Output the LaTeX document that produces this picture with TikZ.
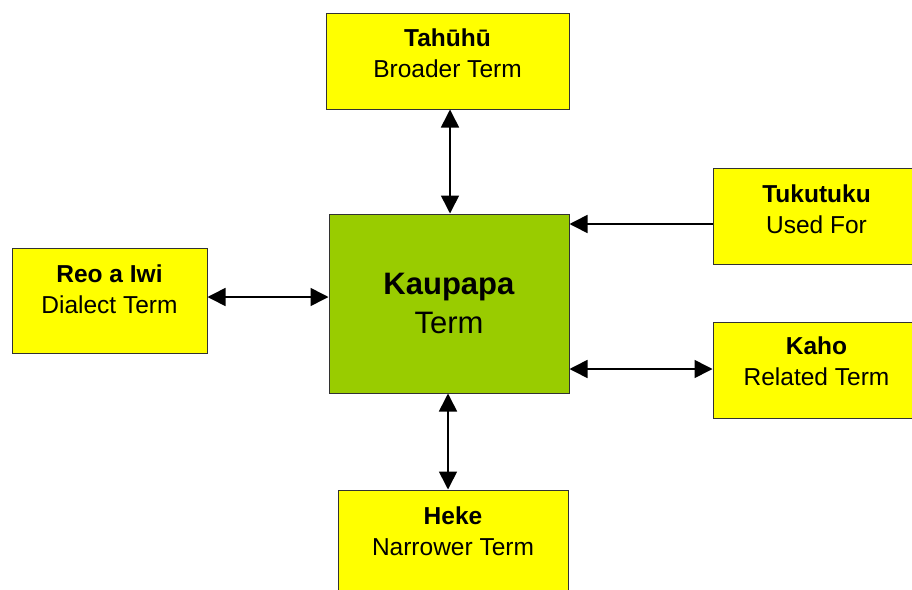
\documentclass[tikz,border=0pt]{standalone}
\usepackage{fontspec}
\setmainfont{Liberation Sans}
\usetikzlibrary{arrows.meta}

\definecolor{termyellow}{RGB}{255,255,0}
\definecolor{termgreen}{RGB}{153,204,0}
\definecolor{boxline}{RGB}{50,50,50}

\tikzset{
	termbox/.style={draw=boxline, line width=1pt, fill=termyellow, inner sep=0pt},
	termtext/.style={anchor=north, inner sep=0pt, align=center, font=\fontsize{24.5}{31}\selectfont},
	mainbox/.style={draw=boxline, line width=1pt, fill=termgreen, inner sep=0pt, align=center, font=\fontsize{31}{39}\selectfont},
	link/.style={line width=1.6pt, >={Triangle[width=18pt,length=18pt]}}
}

\begin{document}
\begin{tikzpicture}[x=1pt, y=-1pt]
			%%%%% START %%%%%
			
			\useasboundingbox[fill=white] (0, 0) rectangle (912, 589);
			\begin{scope}
			\clip (0, 0) rectangle (912, 589);
			
			% the term in the middle
			\node[mainbox, minimum width=240pt, minimum height=179pt] (kaupapa) at (449, 303.5) {\textbf{Kaupapa}\\Term};
			
			% the boxes round it
			\node[termbox, minimum width=243pt, minimum height=96pt] (tahuhu) at (447.5, 61) {};
			\node[termtext] (tahuhu-t) at ([yshift=-16pt]tahuhu.north) {\textbf{Tahūhū}\\Broader Term};
			
			\node[termbox, minimum width=195pt, minimum height=105pt] (reo) at (109.5, 300.5) {};
			\node[termtext] (reo-t) at ([yshift=-17pt]reo.north) {\textbf{Reo a Iwi}\\Dialect Term};
			
			\node[termbox, minimum width=207pt, minimum height=96pt] (tukutuku) at (816.5, 216) {};
			\node[termtext] (tukutuku-t) at ([yshift=-17pt]tukutuku.north) {\textbf{Tukutuku}\\Used For};
			
			\node[termbox, minimum width=207pt, minimum height=96pt] (kaho) at (816.5, 370) {};
			\node[termtext] (kaho-t) at ([yshift=-15pt]kaho.north) {\textbf{Kaho}\\Related Term};
			
			\node[termbox, minimum width=230pt, minimum height=110pt] (heke) at (453, 545) {};
			\node[termtext] (heke-t) at ([yshift=-17pt]heke.north) {\textbf{Heke}\\Narrower Term};
			
			% the links
			\draw[link, <->] ([xshift=2.5pt]tahuhu.south) -- ([xshift=2.5pt]tahuhu.south |- kaupapa.north);
			\draw[link, <->] ([yshift=3.5pt]reo.east) -- ([yshift=3.5pt]reo.east -| kaupapa.west);
			\draw[link, ->] ([yshift=-8pt]tukutuku.west) -- ([yshift=-8pt]tukutuku.west -| kaupapa.east);
			\draw[link, <->] ([yshift=1pt]kaho.west) -- ([yshift=1pt]kaho.west -| kaupapa.east);
			\draw[link, <->] ([xshift=-5pt]heke.north) -- ([xshift=-5pt]heke.north |- kaupapa.south);
			
			\end{scope}
			%%%%% END %%%%%
\end{tikzpicture}
\end{document}
